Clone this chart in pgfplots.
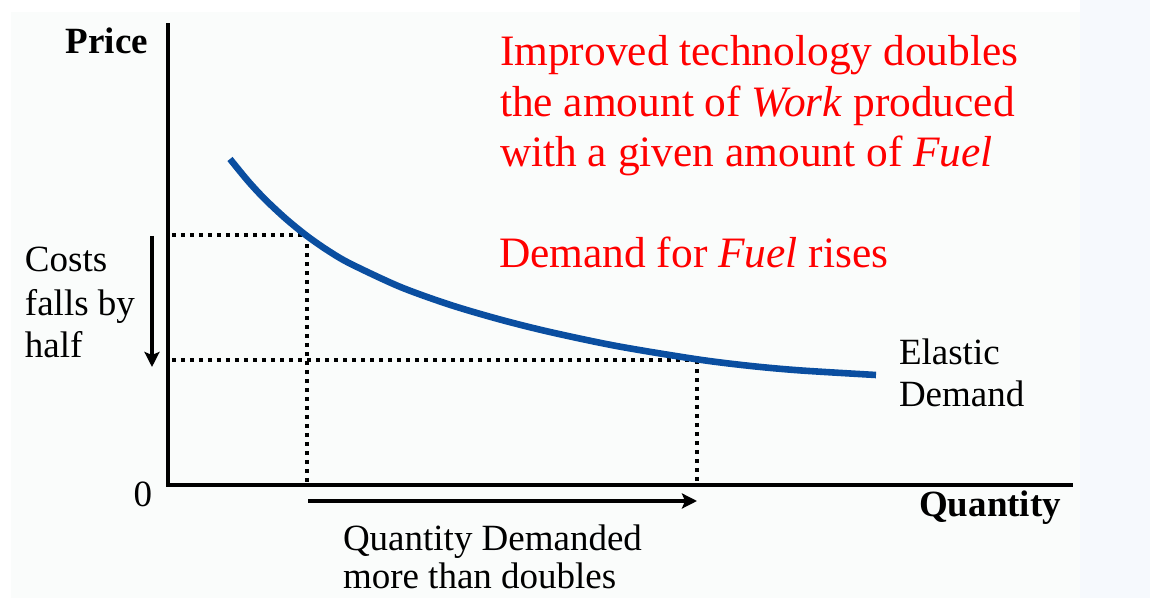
\documentclass[border=0pt]{standalone}
\usepackage{fontspec}
\setmainfont{Liberation Serif}
\usepackage{pgfplots}
\pgfplotsset{compat=1.18}
\usetikzlibrary{arrows.meta}
\definecolor{curveblue}{RGB}{10,78,160}
\definecolor{panel}{RGB}{250,252,251}
\definecolor{strip}{RGB}{246,249,253}
\tikzset{
  blk/.style={inner sep=0pt, outer sep=0pt, font=\fontsize{18.5pt}{21.5pt}\selectfont},
  bblk/.style={inner sep=0pt, outer sep=0pt, font=\fontsize{18.5pt}{21.5pt}\selectfont\bfseries},
  redt/.style={inner sep=0pt, outer sep=0pt, text=red, anchor=base west, font=\fontsize{21.7pt}{25pt}\selectfont},
}
\begin{document}
\begin{tikzpicture}
\fill[white,use as bounding box] (-84pt,-56.5pt) rectangle (491pt,242.5pt);
\fill[panel] (-78.5pt,-56.5pt) rectangle (456pt,236.5pt);
\fill[strip] (456pt,-56.5pt) rectangle (491pt,242.5pt);
\begin{axis}[
  at={(0pt,0pt)}, anchor=south west,
  scale only axis, width=451.5pt, height=230pt,
  xmin=0, xmax=903, ymin=0, ymax=460,
  axis x line=bottom, axis y line=left,
  axis line style={-, line width=1.8pt, line cap=rect, black},
  ticks=none, clip=false,
]
% dotted guide lines
\addplot[black, line width=2.2pt, dash pattern=on 2.2pt off 2.3pt] coordinates {(4,250) (139,250)};
\addplot[black, line width=2.2pt, dash pattern=on 2.2pt off 2.3pt] coordinates {(139,250) (139,0)};
\addplot[black, line width=2.2pt, dash pattern=on 2.2pt off 2.3pt] coordinates {(4,125) (529,125)};
\addplot[black, line width=2.2pt, dash pattern=on 2.2pt off 2.3pt] coordinates {(529,125) (529,0)};
% demand curve
\addplot[curveblue, line width=3.3pt, smooth, tension=0.5] coordinates {
 (62,326) (80,304) (97,285.7) (118,266.1) (139,249) (160,234.4) (182,221.5)
 (232,198.2) (282,180.2) (332,165.5) (382,153) (449,138.9) (529,125.7)
 (582,119.1) (632,114.6) (708,110)};
% arrows
\addplot[black, line width=1.6pt, -{Stealth[length=7.5pt,width=7.5pt,inset=1.5pt]}] coordinates {(-16,249) (-16,118)};
\addplot[black, line width=1.6pt, -{Stealth[length=7.5pt,width=7.5pt,inset=1.5pt]}] coordinates {(140,-16) (529,-16)};
% labels
\node[bblk, anchor=base east] at (axis cs:-20,431) {Price};
\node[bblk, anchor=base east] at (axis cs:893,-32) {Quantity};
\node[blk, anchor=base] at (axis cs:-25,-22) {0};
\node[blk, anchor=base west] at (axis cs:-143,213) {Costs};
\node[blk, anchor=base west] at (axis cs:-143,169) {falls by};
\node[blk, anchor=base west] at (axis cs:-143,127) {half};
\node[blk, anchor=base west] at (axis cs:731,120) {Elastic};
\node[blk, anchor=base west] at (axis cs:731,78) {Demand};
\node[blk, anchor=base west] at (axis cs:175,-66) {Quantity Demanded};
\node[blk, anchor=base west] at (axis cs:175,-104) {more than doubles};
% red statements
\node[redt] at (axis cs:332,419) {Improved technology doubles};
\node[redt] at (axis cs:332,368.5) {the amount of \textit{Work} produced};
\node[redt] at (axis cs:332,318) {with a given amount of \textit{Fuel}};
\node[redt] at (axis cs:331,217) {Demand for \textit{Fuel} rises};
\end{axis}
\end{tikzpicture}
\end{document}
